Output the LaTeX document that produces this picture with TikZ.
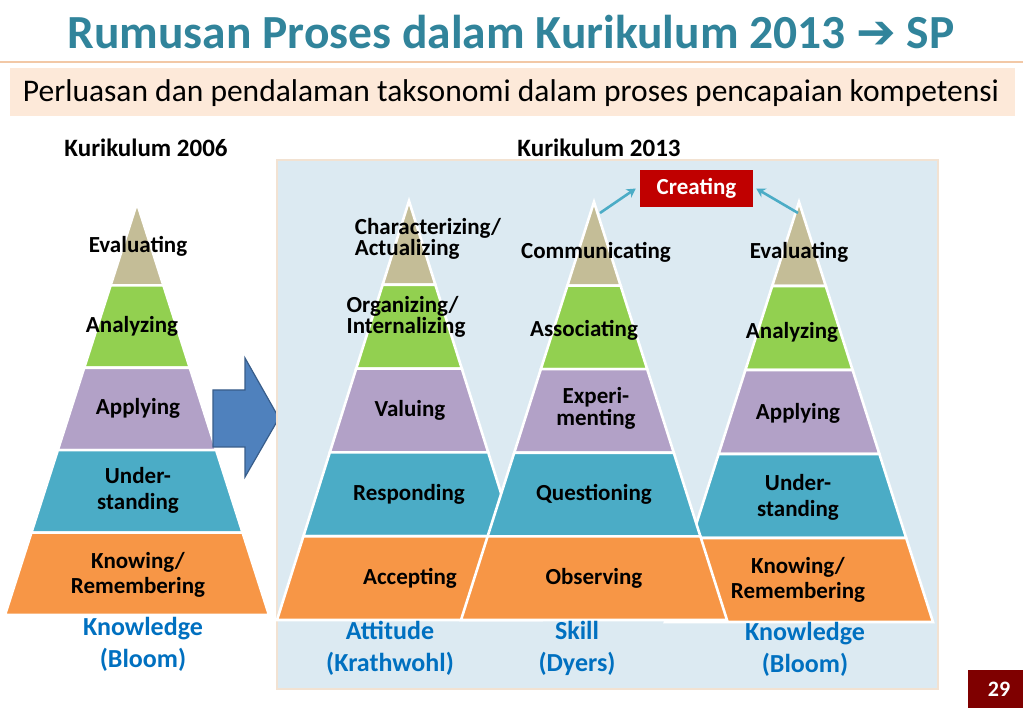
\documentclass[tikz,border=0pt]{standalone}
\usepackage{fontspec}
\setmainfont{Carlito}
\newfontfamily\arrowfont{DejaVu Sans}
\usetikzlibrary{arrows.meta}
\definecolor{cTan}{HTML}{C4BD97}
\definecolor{cGreen}{HTML}{92D050}
\definecolor{cPurple}{HTML}{B2A1C7}
\definecolor{cTeal}{HTML}{4BACC6}
\definecolor{cOrange}{HTML}{F79646}
\definecolor{cTitle}{HTML}{31849B}
\definecolor{cPanel}{HTML}{DCEAF2}
\definecolor{cPanelBorder}{HTML}{F2E2D2}
\definecolor{cSub}{HTML}{FDE9D9}
\definecolor{cSep}{HTML}{F2C8A6}
\definecolor{cBlueLbl}{HTML}{0070C0}
\definecolor{cArrow}{HTML}{4F81BD}
\definecolor{cArrowB}{HTML}{385D8A}
\definecolor{cCreate}{HTML}{C00000}
\definecolor{cPage}{HTML}{7F0000}
\newcommand\pyr[4]{%
  \foreach \i/\c in {0/cTan,1/cGreen,2/cPurple,3/cTeal,4/cOrange}{%
    \pgfmathsetmacro\ya{#2+\i*(#3-#2)/5}%
    \pgfmathsetmacro\yb{#2+(\i+1)*(#3-#2)/5}%
    \pgfmathsetmacro\wa{#4*\i/5}%
    \pgfmathsetmacro\wb{#4*(\i+1)/5}%
    \path[fill=\c, draw=white, line width=2.6pt] (#1-\wa,\ya) -- (#1+\wa,\ya) -- (#1+\wb,\yb) -- (#1-\wb,\yb) -- cycle;
  }}
\tikzset{
  lay/.style={font=\fontsize{23}{23}\selectfont\bfseries, align=center, inner sep=0pt, text=black},
  bot/.style={font=\fontsize{26}{32}\selectfont\bfseries, align=center, inner sep=0pt, text=cBlueLbl},
  kur/.style={font=\fontsize{25}{26}\selectfont\bfseries, inner sep=0pt},
  arrowT/.style={draw=cTeal, line width=2.6pt, -{Stealth[length=9pt,width=10pt]}},
}
\begin{document}
\begin{tikzpicture}[x=1pt,y=-1pt]
\useasboundingbox[fill=white] (0,0) rectangle (1023,708);
% title
\node[font=\fontsize{47.5}{50}\selectfont\bfseries, text=cTitle, inner sep=0pt] (title) at (511,32) {Rumusan Proses dalam Kurikulum 2013 {\arrowfont ➔} SP};
\draw[cSep, line width=1.5pt] (0,62) -- (1023,62);
\fill[cSub] (10,68) rectangle (1015,116);
\node[font=\fontsize{31.5}{33}\selectfont, inner sep=0pt] (sub) at (511,93) {Perluasan dan pendalaman taksonomi dalam proses pencapaian kompetensi};
\node[kur] (k2006) at (146,148) {Kurikulum 2006};
\node[kur] (k2013) at (599,148) {Kurikulum 2013};
% left pyramid
\pyr{137}{203}{615}{132}
% blue arrow
\path[fill=cArrow, draw=cArrowB, line width=1.2pt] (213,390) -- (245,390) -- (245,358) -- (279,418) -- (245,477) -- (245,447) -- (213,447) -- cycle;
% panel
\path[fill=cPanel, draw=cPanelBorder, line width=2pt] (277,160) rectangle (938,689);
% pyramids 2013
\pyr{799}{202}{622}{134}
\pyr{409}{201}{620}{132}
\pyr{594}{202}{620}{133}
% left labels
\node[lay] (l1) at (138,246) {Evaluating};
\node[lay] (l2) at (132,326) {Analyzing};
\node[lay] (l3) at (138,408) {Applying};
\node[lay, font=\fontsize{23}{26}\selectfont\bfseries] (l4) at (138,490) {Under-\\standing};
\node[lay, font=\fontsize{23}{25}\selectfont\bfseries] (l5) at (138,575) {Knowing/\\Remembering};
% attitude labels
\node[lay, align=left, font=\fontsize{23}{20}\selectfont\bfseries] (a1) at (428,239) {Characterizing/\\Actualizing};
\node[lay, align=left, font=\fontsize{23}{21}\selectfont\bfseries] (a2) at (406,317) {Organizing/\\Internalizing};
\node[lay] (a3) at (410,410) {Valuing};
\node[lay] (a4) at (409,494) {Responding};
\node[lay] (a5) at (410,578) {Accepting};
% skill labels
\node[lay] (s1) at (596,252) {Communicating};
\node[lay] (s2) at (584,330) {Associating};
\node[lay, font=\fontsize{23}{22}\selectfont\bfseries] (s3) at (596,408) {Experi-\\menting};
\node[lay] (s4) at (594,494) {Questioning};
\node[lay] (s5) at (594,578) {Observing};
% right knowledge labels
\node[lay] (r1) at (799,252) {Evaluating};
\node[lay] (r2) at (792,332) {Analyzing};
\node[lay] (r3) at (798,413) {Applying};
\node[lay, font=\fontsize{23}{26}\selectfont\bfseries] (r4) at (798,497) {Under-\\standing};
\node[lay, font=\fontsize{23}{25}\selectfont\bfseries] (r5) at (798,580) {Knowing/\\Remembering};
% creating
\node[fill=cCreate, text=white, font=\fontsize{23}{23}\selectfont\bfseries, minimum width=113pt, minimum height=37pt, inner sep=0pt] (creating) at (696.5,188.5) {Creating};
\coordinate (skillTop) at (600,213);
\coordinate (knowTop) at (798,213);
\draw[arrowT] (skillTop) -- ([xshift=-4pt]creating.west);
\draw[arrowT] (knowTop) -- ([xshift=3pt]creating.east);
% bottom labels
\node[bot] (b1) at (143,644) {Knowledge\\(Bloom)};
\node[bot] (b2) at (390,648) {Attitude\\(Krathwohl)};
\node[bot] (b3) at (577,648) {Skill\\(Dyers)};
\node[bot] (b4) at (805,649) {Knowledge\\(Bloom)};
% page number
\fill[cPage] (968,670) rectangle (1023,708);
\node[text=white, font=\fontsize{22}{22}\selectfont\bfseries, inner sep=0pt] (page) at (999,689) {29};
\end{tikzpicture}
\end{document}
